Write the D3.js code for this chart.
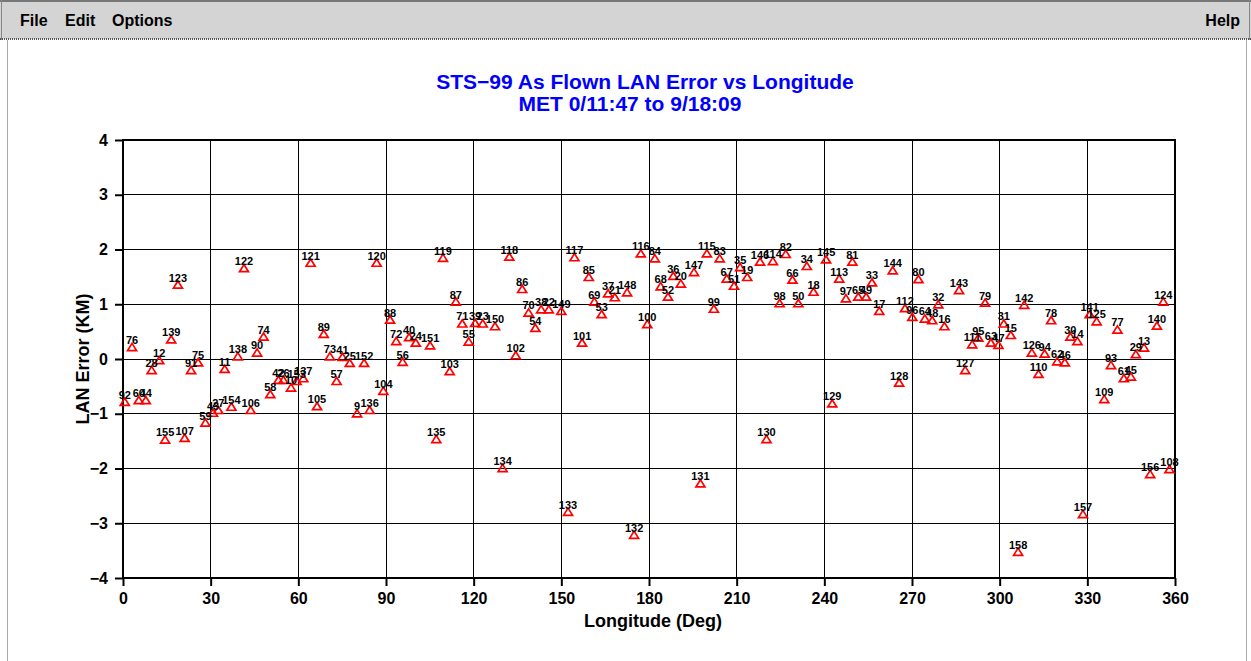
<!DOCTYPE html>
<html>
<head>
<meta charset="utf-8">
<script src="https://cdn.jsdelivr.net/npm/d3@7"></script>
<style>
  body { margin: 0; background: #fff; }
  svg text { font-family: "Liberation Sans", Arial, sans-serif; font-weight: bold; }
  .menu { font-size: 16px; fill: #000; }
  .title { font-size: 21px; fill: #0000ff; text-anchor: middle; }
  .axis-label { font-size: 18px; text-anchor: middle; }
  .rev-label { font-size: 11px; text-anchor: middle; fill: #000; }
</style>
</head>
<body>
<script>
// rev numbers, longitude (deg) and LAN error (km)
var revs = [156, 140, 124, 108, 92, 76, 60, 44, 28, 12,
    155, 139, 123, 107, 91, 75, 59, 43, 27, 11,
    154, 138, 122, 106, 90, 74, 58, 42, 26, 10,
    153, 137, 121, 105, 89, 73, 57, 41, 25, 9,
    152, 136, 120, 104, 88, 72, 56, 40, 24,
    151, 135, 119, 103, 87, 71, 55, 39, 23,
    150, 134, 118, 102, 86, 70, 54, 38, 22,
    149, 133, 117, 101, 85, 69, 53, 37, 21,
    148, 132, 116, 100, 84, 68, 52, 36, 20,
    147, 131, 115, 99, 83, 67, 51, 35, 19,
    146, 130, 114, 98, 82, 66, 50, 34, 18,
    145, 129, 113, 97, 81, 65, 49, 33, 17,
    144, 128, 112, 96, 80, 64, 48, 32, 16,
    143, 127, 111, 95, 79, 63, 47, 31, 15,
    158, 142, 126, 110, 94, 78, 62, 46, 30, 14,
    157, 141, 125, 109, 93, 77, 61, 45, 29, 13];

var lon = [351.5, 353.8, 356.0, 358.1, 0.6, 3.1, 5.4, 7.8, 9.8, 12.4,
    14.4, 16.5, 18.8, 21.1, 23.3, 25.7, 28.2, 30.8, 32.6, 34.8,
    37.1, 39.3, 41.4, 43.7, 45.9, 48.1, 50.4, 53.2, 54.9, 57.5,
    59.4, 61.7, 64.2, 66.4, 68.7, 70.8, 73.1, 75.1, 77.6, 80.1,
    82.5, 84.4, 86.8, 89.1, 91.4, 93.5, 95.7, 97.9, 100.2,
    105.1, 107.2, 109.5, 111.8, 113.9, 116.1, 118.3, 120.5, 123.1,
    127.3, 129.9, 132.2, 134.4, 136.6, 138.8, 141.1, 143.1, 145.7,
    150.0, 152.3, 154.5, 157.1, 159.4, 161.3, 163.8, 166.0, 168.3,
    172.5, 174.9, 177.2, 179.4, 182.0, 184.0, 186.5, 188.3, 190.9,
    195.4, 197.6, 199.8, 202.2, 204.2, 206.6, 209.1, 211.2, 213.6,
    218.0, 220.2, 222.4, 224.7, 226.8, 229.1, 231.1, 234.0, 236.3,
    240.6, 242.7, 245.1, 247.4, 249.6, 251.6, 254.3, 256.3, 258.8,
    263.4, 265.6, 267.6, 270.1, 272.2, 274.4, 276.9, 279.0, 281.1,
    286.1, 288.2, 290.6, 292.7, 295.0, 297.0, 299.6, 301.4, 303.8,
    306.3, 308.4, 311.0, 313.3, 315.4, 317.6, 319.7, 322.3, 324.2, 326.6,
    328.5, 330.8, 333.2, 335.8, 338.1, 340.3, 342.5, 344.9, 346.6, 349.4];

var lanErr = [-2.10, 0.61, 1.05, -2.01, -0.78, 0.22, -0.75, -0.75, -0.20, -0.02,
    -1.47, 0.36, 1.36, -1.44, -0.20, -0.06, -1.16, -0.98, -0.93, -0.18,
    -0.87, 0.05, 1.66, -0.93, 0.12, 0.41, -0.64, -0.38, -0.38, -0.52,
    -0.40, -0.35, 1.76, -0.86, 0.46, 0.05, -0.40, 0.04, -0.07, -0.99,
    -0.07, -0.93, 1.76, -0.58, 0.72, 0.33, -0.05, 0.40, 0.30,
    0.25, -1.46, 1.85, -0.22, 1.05, 0.65, 0.32, 0.66, 0.65,
    0.60, -1.99, 1.87, 0.07, 1.28, 0.85, 0.57, 0.91, 0.91,
    0.88, -2.79, 1.86, 0.30, 1.50, 1.05, 0.82, 1.20, 1.13,
    1.22, -3.21, 1.93, 0.64, 1.84, 1.33, 1.14, 1.52, 1.38,
    1.59, -2.27, 1.93, 0.92, 1.84, 1.47, 1.34, 1.68, 1.50,
    1.78, -1.46, 1.79, 1.02, 1.92, 1.45, 1.02, 1.70, 1.23,
    1.82, -0.81, 1.47, 1.11, 1.78, 1.14, 1.14, 1.40, 0.88,
    1.62, -0.43, 0.93, 0.77, 1.46, 0.74, 0.71, 1.00, 0.60,
    1.26, -0.20, 0.27, 0.39, 1.03, 0.30, 0.26, 0.65, 0.44,
    -3.52, 0.99, 0.12, -0.27, 0.10, 0.71, -0.04, -0.06, 0.41, 0.33,
    -2.83, 0.82, 0.69, -0.73, -0.11, 0.54, -0.35, -0.32, 0.09, 0.21];

var xTicks = [0, 30, 60, 90, 120, 150, 180, 210, 240, 270, 300, 330, 360];
var yTicks = [-4, -3, -2, -1, 0, 1, 2, 3, 4];

var W = 1251, H = 661;
var plotLeft = 123, plotRight = 1175, plotTop = 140, plotBottom = 578;

var svg = d3.select("body").append("svg").attr("width", W).attr("height", H);

// menu bar
svg.append("rect").attr("x", 0).attr("y", 0).attr("width", W).attr("height", 39).attr("fill", "#d4d4d4");
svg.append("line").attr("x1", 0).attr("x2", W).attr("y1", 1).attr("y2", 1).attr("stroke", "#777").attr("stroke-width", 2);
svg.append("line").attr("x1", 0).attr("x2", W).attr("y1", 39).attr("y2", 39).attr("stroke", "#555").attr("stroke-width", 2)
    .attr("stroke-dasharray", "1,1");
svg.append("line").attr("x1", 1.5).attr("x2", 1.5).attr("y1", 0).attr("y2", 40).attr("stroke", "#888");
svg.append("line").attr("x1", W - 1.5).attr("x2", W - 1.5).attr("y1", 0).attr("y2", 40).attr("stroke", "#888");
// window edges below the menu
svg.append("line").attr("x1", 7.5).attr("x2", 7.5).attr("y1", 40).attr("y2", H).attr("stroke", "#aaa");
svg.append("line").attr("x1", W - 4.5).attr("x2", W - 4.5).attr("y1", 40).attr("y2", H).attr("stroke", "#aaa");

svg.append("text").attr("class", "menu").attr("x", 20).attr("y", 26).text("File");
svg.append("text").attr("class", "menu").attr("x", 65).attr("y", 26).text("Edit");
svg.append("text").attr("class", "menu").attr("x", 112).attr("y", 26).text("Options");
svg.append("text").attr("class", "menu").attr("x", 1240).attr("y", 26).attr("text-anchor", "end").text("Help");

// titles
svg.append("text").attr("class", "title").attr("x", 645).attr("y", 89).text("STS\u221299 As Flown LAN Error vs Longitude");
svg.append("text").attr("class", "title").attr("x", 630).attr("y", 111).text("MET 0/11:47 to 9/18:09");

var x = d3.scaleLinear().domain([0, 360]).range([plotLeft, plotRight]);
var y = d3.scaleLinear().domain([-4, 4]).range([plotBottom, plotTop]);

// grid
svg.append("g").selectAll("line").data(xTicks.slice(1, -1)).enter().append("line")
    .attr("x1", function (d) { return x(d) }).attr("x2", function (d) { return x(d) })
    .attr("y1", plotTop).attr("y2", plotBottom)
    .attr("stroke", "#000").attr("stroke-width", 1).attr("shape-rendering", "crispEdges");
svg.append("g").selectAll("line").data(yTicks.slice(1, -1)).enter().append("line")
    .attr("x1", plotLeft).attr("x2", plotRight)
    .attr("y1", function (d) { return y(d) }).attr("y2", function (d) { return y(d) })
    .attr("stroke", "#000").attr("stroke-width", 1).attr("shape-rendering", "crispEdges");

// axes
var xAxis = svg.append("g").attr("transform", "translate(0," + plotBottom + ")")
    .call(d3.axisBottom(x).tickValues(xTicks).tickSize(8).tickPadding(7).tickFormat(d3.format("d")));
var yAxis = svg.append("g").attr("transform", "translate(" + plotLeft + ",0)")
    .call(d3.axisLeft(y).tickValues(yTicks).tickSize(8).tickPadding(7).tickFormat(d3.format("d")));
[xAxis, yAxis].forEach(function (a) {
    a.select(".domain").remove();
    a.selectAll(".tick line").attr("stroke", "#000").attr("stroke-width", 2);
    a.selectAll(".tick text").attr("fill", "#000")
        .style("font-family", "Liberation Sans, Arial, sans-serif").style("font-size", "16px");
});

svg.append("rect").attr("x", plotLeft).attr("y", plotTop).attr("width", plotRight - plotLeft).attr("height", plotBottom - plotTop)
    .attr("fill", "none").attr("stroke", "#000").attr("stroke-width", 2);

svg.append("text").attr("class", "axis-label").attr("x", 653).attr("y", 627).text("Longitude (Deg)");
svg.append("text").attr("class", "axis-label")
    .attr("transform", "translate(89," + y(0) + ") rotate(-90)").text("LAN Error (KM)");

// points
var pts = revs.map(function (r, i) { return { rev: r, lon: lon[i], err: lanErr[i] } });

svg.append("g").selectAll("path").data(pts).enter().append("path")
    .attr("d", "M0,-3.6L4.5,3.6L-4.5,3.6Z")
    .attr("transform", function (d) { return "translate(" + x(d.lon) + "," + y(d.err) + ")" })
    .attr("fill", "none").attr("stroke", "#ff0000").attr("stroke-width", 1.7);

svg.append("g").selectAll("text").data(pts).enter().append("text")
    .attr("class", "rev-label")
    .attr("x", function (d) { return x(d.lon) })
    .attr("y", function (d) { return y(d.err) - 3 })
    .text(function (d) { return d.rev });
</script>
</body>
</html>
